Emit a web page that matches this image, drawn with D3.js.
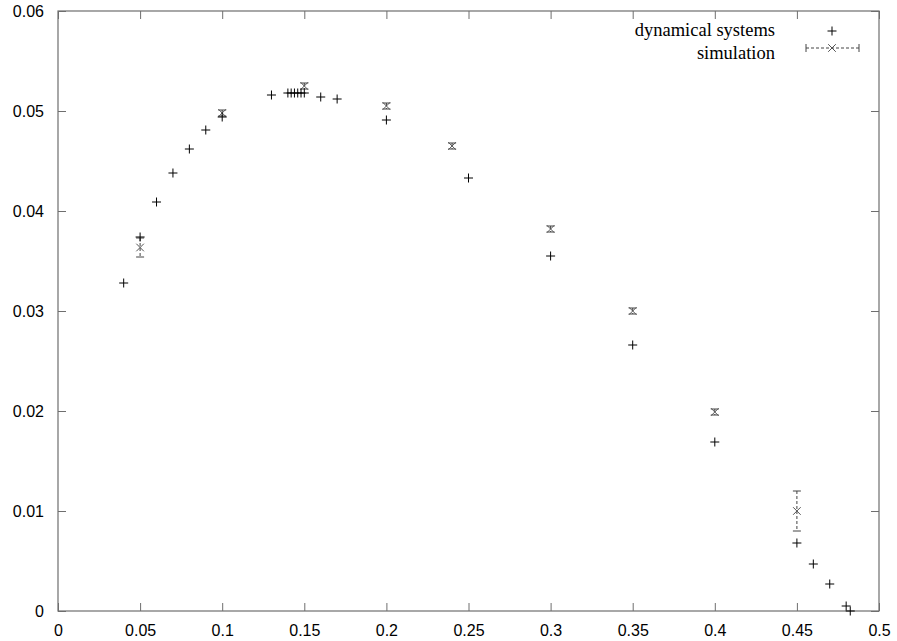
<!DOCTYPE html>
<html>
<head>
<meta charset="utf-8">
<script src="https://cdn.jsdelivr.net/npm/d3@7"></script>
<style>
  body { margin: 0; background: #fff; }
  svg { display: block; }
  .tick-label { font-family: "Liberation Sans", Arial, sans-serif; font-size: 16px; fill: #000; }
  .legend-label { font-family: "Liberation Serif", "Times New Roman", serif; font-size: 18.5px; fill: #000; }
</style>
</head>
<body>
<div id="chart"></div>
<script>
// dynamical systems (+ marks)
const dynX = [0.04, 0.05, 0.06, 0.07, 0.08, 0.09, 0.10, 0.13, 0.14, 0.142, 0.144, 0.146, 0.148, 0.15, 0.16, 0.17, 0.20, 0.25, 0.30, 0.35, 0.40, 0.45, 0.46, 0.47, 0.48, 0.4825];
const dynY = [0.0328, 0.0374, 0.0409, 0.0438, 0.0462, 0.0481, 0.0494, 0.0516, 0.0518, 0.0518, 0.0518, 0.0518, 0.0518, 0.0518, 0.0514, 0.0512, 0.0491, 0.0433, 0.0355, 0.0266, 0.0169, 0.0068, 0.0047, 0.0027, 0.0005, 0.0];

// simulation (x marks with error bars)
const simX   = [0.05, 0.10, 0.15, 0.20, 0.24, 0.30, 0.35, 0.40, 0.45];
const simY   = [0.03635, 0.0498, 0.0525, 0.0505, 0.0465, 0.0382, 0.0300, 0.0199, 0.0100];
const simErr = [0.00095, 0.0003, 0.0003, 0.0003, 0.0003, 0.0003, 0.0003, 0.0003, 0.0020];

const xTicks = [0, 0.05, 0.1, 0.15, 0.2, 0.25, 0.3, 0.35, 0.4, 0.45, 0.5];
const yTicks = [0, 0.01, 0.02, 0.03, 0.04, 0.05, 0.06];

const legendLabels = ['dynamical systems', 'simulation'];

let canvasWidth  = 897;
let canvasHeight = 641;
let margin = { top: 11, right: 18, bottom: 30, left: 58 };
let width  = canvasWidth - margin.left - margin.right;
let height = canvasHeight - margin.top - margin.bottom;

let x = d3.scaleLinear().domain([0, 0.5]).range([0, width]);
let y = d3.scaleLinear().domain([0, 0.06]).range([height, 0]);

let svg = d3.select('#chart').append('svg')
    .attr('width', canvasWidth)
    .attr('height', canvasHeight)
  .append('g')
    .attr('transform', 'translate(' + margin.left + ',' + margin.top + ')');

const frameColor = '#6e6e6e';
const tickLen = 8;

// inward ticks on all four sides
svg.append('g')
    .attr('transform', 'translate(0,' + height + ')')
    .call(d3.axisBottom(x).tickValues(xTicks).tickSize(-tickLen).tickPadding(10).tickFormat(d3.format('')))
    .call(g => g.select('.domain').remove())
    .call(g => g.selectAll('line').attr('stroke', frameColor))
    .call(g => g.selectAll('text').attr('class', 'tick-label').attr('dy', '0.95em'));

svg.append('g')
    .call(d3.axisTop(x).tickValues(xTicks).tickSize(-tickLen).tickFormat(''))
    .call(g => g.select('.domain').remove())
    .call(g => g.selectAll('line').attr('stroke', frameColor));

svg.append('g')
    .call(d3.axisLeft(y).tickValues(yTicks).tickSize(-tickLen).tickPadding(14).tickFormat(d3.format('')))
    .call(g => g.select('.domain').remove())
    .call(g => g.selectAll('line').attr('stroke', frameColor))
    .call(g => g.selectAll('text').attr('class', 'tick-label'));

svg.append('g')
    .attr('transform', 'translate(' + width + ',0)')
    .call(d3.axisRight(y).tickValues(yTicks).tickSize(-tickLen).tickFormat(''))
    .call(g => g.select('.domain').remove())
    .call(g => g.selectAll('line').attr('stroke', frameColor));

svg.append('rect')
    .attr('x', 0).attr('y', 0)
    .attr('width', width).attr('height', height)
    .attr('fill', 'none')
    .attr('stroke', frameColor)
    .attr('stroke-width', 1.2);

const plusR = 4.5;
const crossR = 3.8;
const capR = 4;

function plusPath(cx, cy) {
    return 'M' + (cx - plusR) + ',' + cy + 'H' + (cx + plusR) +
           'M' + cx + ',' + (cy - plusR) + 'V' + (cy + plusR);
}
function crossPath(cx, cy) {
    return 'M' + (cx - crossR) + ',' + (cy - crossR) + 'L' + (cx + crossR) + ',' + (cy + crossR) +
           'M' + (cx - crossR) + ',' + (cy + crossR) + 'L' + (cx + crossR) + ',' + (cy - crossR);
}

// simulation error bars
let sim = simX.map((v, i) => ({ x: v, y: simY[i], e: simErr[i] }));

let simG = svg.append('g');
simG.selectAll('.ebar')
    .data(sim)
  .enter().append('line')
    .attr('class', 'ebar')
    .attr('x1', o => x(o.x)).attr('x2', o => x(o.x))
    .attr('y1', o => y(o.y + o.e)).attr('y2', o => y(o.y - o.e))
    .attr('stroke', '#444')
    .attr('stroke-dasharray', '3,2');

simG.selectAll('.cap')
    .data(sim.flatMap(o => [o.y + o.e, o.y - o.e].map(v => ({ x: o.x, v: v }))))
  .enter().append('line')
    .attr('class', 'cap')
    .attr('x1', o => x(o.x) - capR).attr('x2', o => x(o.x) + capR)
    .attr('y1', o => y(o.v)).attr('y2', o => y(o.v))
    .attr('stroke', '#444');

simG.selectAll('.cross')
    .data(sim)
  .enter().append('path')
    .attr('class', 'cross')
    .attr('d', o => crossPath(x(o.x), y(o.y)))
    .attr('stroke', '#555')
    .attr('fill', 'none');

// dynamical systems points
let dyn = dynX.map((v, i) => ({ x: v, y: dynY[i] }));
svg.append('g').selectAll('.plus')
    .data(dyn)
  .enter().append('path')
    .attr('class', 'plus')
    .attr('d', o => plusPath(x(o.x), y(o.y)))
    .attr('stroke', '#000')
    .attr('fill', 'none');

// legend (positions in page pixels, shifted back by the margin)
let legend = svg.append('g').attr('transform', 'translate(' + (775 - margin.left) + ',' + (-margin.top) + ')');
legend.selectAll('text')
    .data(legendLabels)
  .enter().append('text')
    .attr('class', 'legend-label')
    .attr('text-anchor', 'end')
    .attr('x', 0)
    .attr('y', (d, i) => 36 + i * 23)
    .text(d => d);

let lx = 832 - 775;
legend.append('path')
    .attr('d', plusPath(lx, 31))
    .attr('stroke', '#000').attr('fill', 'none');

let ly = 48;
legend.append('line')
    .attr('x1', lx - 26).attr('x2', lx + 27)
    .attr('y1', ly).attr('y2', ly)
    .attr('stroke', '#444').attr('stroke-dasharray', '3,2');
legend.selectAll('.lcap')
    .data([lx - 26, lx + 27])
  .enter().append('line')
    .attr('class', 'lcap')
    .attr('x1', d => d).attr('x2', d => d)
    .attr('y1', ly - 4).attr('y2', ly + 4)
    .attr('stroke', '#444');
legend.append('path')
    .attr('d', crossPath(lx, ly))
    .attr('stroke', '#555').attr('fill', 'none');
</script>
</body>
</html>
